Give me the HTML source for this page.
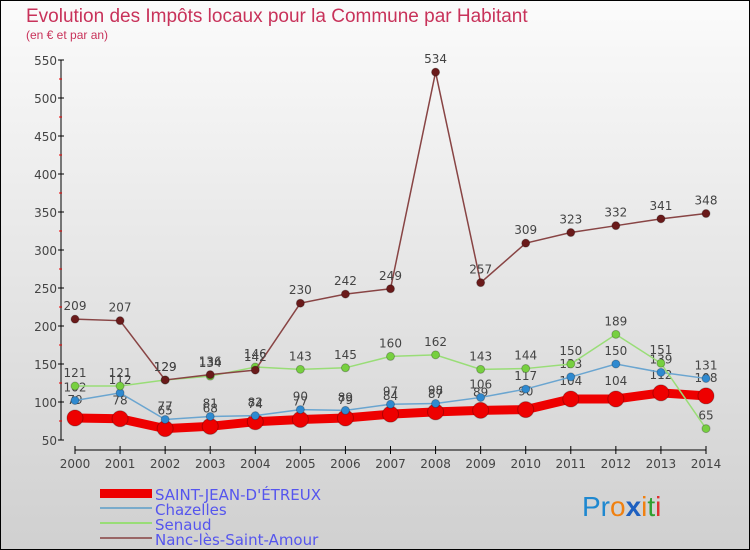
<!DOCTYPE html>
<html><head><meta charset="utf-8"><style>
html,body{margin:0;padding:0}
body{width:750px;height:550px;overflow:hidden;font-family:"DejaVu Sans","Liberation Sans",sans-serif}
svg{display:block}
</style></head><body>
<svg id="chart" width="750" height="550" xmlns="http://www.w3.org/2000/svg">
<defs><linearGradient id="bg" x1="0" y1="0" x2="0" y2="1"><stop offset="0" stop-color="#fbfbfb"/><stop offset="1" stop-color="#d0d0d0"/></linearGradient></defs>
<rect x="0.5" y="0.5" width="749" height="549" fill="url(#bg)" stroke="#000"/>
<text x="26" y="22" font-size="19" fill="#c8325a" font-family="Liberation Sans,sans-serif">Evolution des Impôts locaux pour la Commune par Habitant</text>
<text x="26" y="39" font-size="12" fill="#c8325a" font-family="Liberation Sans,sans-serif">(en € et par an)</text>
<g id="axes"></g><g id="series"></g>
<g font-size="15" fill="#5555ee">
<rect x="100" y="489" width="52" height="9" fill="#ee0000"/>
<text x="155" y="500">SAINT-JEAN-D'ÉTREUX</text>
<line x1="100" y1="508" x2="152" y2="508" stroke="#7aabcb" stroke-width="2"/>
<text x="155" y="515">Chazelles</text>
<line x1="100" y1="523" x2="152" y2="523" stroke="#99dd77" stroke-width="2"/>
<text x="155" y="530">Senaud</text>
<line x1="100" y1="538" x2="152" y2="538" stroke="#996666" stroke-width="2"/>
<text x="155" y="545">Nanc-lès-Saint-Amour</text>
</g>
<text x="582" y="516" font-size="28" font-family="Liberation Sans,sans-serif"><tspan fill="#1e88d0">Pr</tspan><tspan fill="#f08010">o</tspan><tspan fill="#1e60c0" font-weight="bold">x</tspan><tspan fill="#f08010">i</tspan><tspan fill="#30a030">t</tspan><tspan fill="#e03030">i</tspan></text>
</svg>
<script>
const years=[2000,2001,2002,2003,2004,2005,2006,2007,2008,2009,2010,2011,2012,2013,2014];
const yTicks=[50,100,150,200,250,300,350,400,450,500,550];
const stJean=[79,78,65,68,74,77,79,84,87,89,90,104,104,112,108];
const chazelles=[102,112,77,81,82,90,89,97,98,106,117,133,150,139,131];
const senaud=[121,121,129,134,146,143,145,160,162,143,144,150,189,151,65];
const nanc=[209,207,129,136,142,230,242,249,534,257,309,323,332,341,348];
const NS="http://www.w3.org/2000/svg";
function X(i){return 75+i*(706-75)/(years.length-1);}
function Y(v){return 440-(v-50)*380/500;}
function mk(t,a,p){const e=document.createElementNS(NS,t);for(const k in a)e.setAttribute(k,a[k]);p.appendChild(e);return e;}
const ax=document.getElementById('axes');
const yl=mk('line',{x1:61,y1:Y(550),x2:61,y2:Y(50),stroke:'#000'},ax);


yTicks.forEach((v,i)=>{
 mk('line',{x1:58,y1:Y(v),x2:64,y2:Y(v),stroke:'#000'},ax);
 if(i<yTicks.length-1) mk('line',{x1:59,y1:Y(v+25),x2:62,y2:Y(v+25),stroke:'#e00'},ax);
 const t=mk('text',{x:57,y:Y(v)+5,'text-anchor':'end','font-size':12,fill:'#444'},ax);
 t.textContent=v;
 
 
});
const xl=mk('line',{x1:X(0),y1:450,x2:X(years.length-1),y2:450,stroke:'#000'},ax);


years.forEach((yr,i)=>{
 mk('line',{x1:X(i),y1:446,x2:X(i),y2:454,stroke:'#000'},ax);
 const t=mk('text',{x:X(i),y:468,'text-anchor':'middle','font-size':12,fill:'#444'},ax);
 t.textContent=yr;
 
 
});
const sg=document.getElementById('series');
function draw(name,data,color,dot,w,r,labelDy){
 const g=mk('g',{},sg);
 
 
 mk('polyline',{points:data.map((v,i)=>X(i)+','+Y(v)).join(' '),fill:'none',stroke:color,'stroke-width':w},g);
 data.forEach((v,i)=>{
  const c=mk('circle',{cx:X(i),cy:Y(v),r:r,fill:dot,stroke:'rgba(0,0,0,0.25)'},g);
  
  
  const t=mk('text',{x:X(i),y:Y(v)+labelDy,'text-anchor':'middle','font-size':12,fill:'#444'},g);
  t.textContent=v;
 });
}
draw('series-saint-jean',stJean,'#ee0000','#ee0000',9,8,-14);
draw('series-chazelles',chazelles,'#6aa5d0','#2f8ad0',1.5,4,-9);
draw('series-senaud',senaud,'#99dd77','#77d040',1.5,4,-9);
draw('series-nanc',nanc,'#884444','#6a1a1a',1.5,4,-9);
</script>
</body></html>
